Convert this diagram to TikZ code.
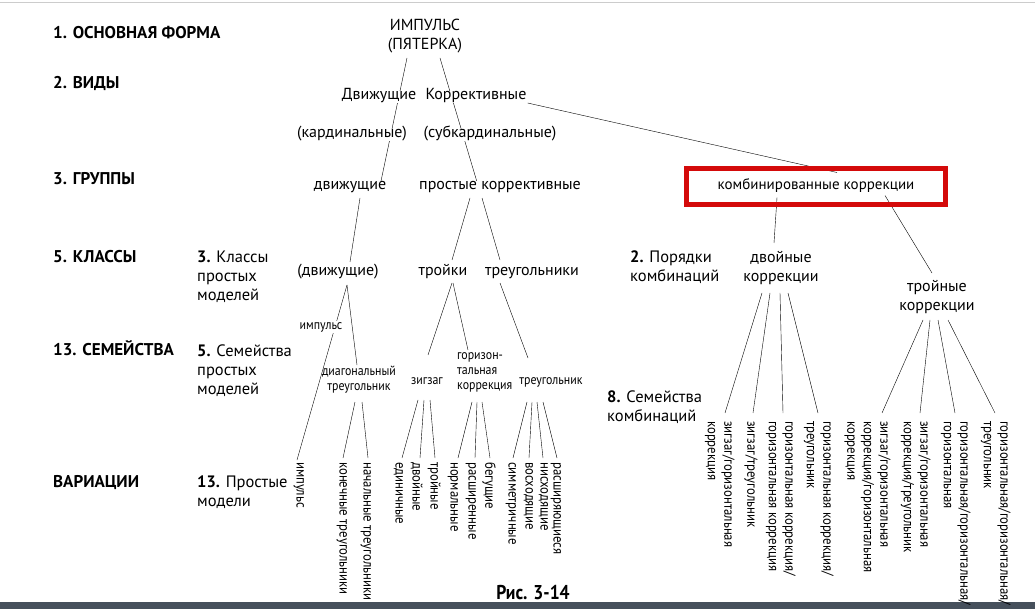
\documentclass[tikz,border=0pt]{standalone}
\usepackage{fontspec}
\setmainfont{PT Sans}
\newfontfamily\narrow[FakeStretch=0.88]{PT Sans}
\usetikzlibrary{backgrounds}

\definecolor{boxred}{RGB}{212,10,10}
\definecolor{barcol}{RGB}{70,80,92}

\tikzset{
  rowname/.style={anchor=west, inner sep=0pt, text height=1.4ex, text depth=0pt, font=\fontsize{17}{20}\selectfont\bfseries},
  note/.style={anchor=north west, inner sep=0pt, align=left, font=\fontsize{16.5}{19}\selectfont, execute at begin node=\vphantom{Б}},
  item/.style={fill=white, inner sep=1pt, text height=1.6ex, text depth=.5ex, font=\fontsize{16}{19}\selectfont},
  pair/.style={anchor=north, inner sep=0pt, align=center, font=\fontsize{16}{19}\selectfont, execute at begin node=\vphantom{Б}},
  small/.style={fill=white, inner sep=1pt, text height=1.6ex, text depth=.5ex, font=\narrow\fontsize{13.5}{15}\selectfont},
  smallpair/.style={anchor=north, inner sep=0pt, align=center, font=\narrow\fontsize{13.5}{15}\selectfont, execute at begin node=\vphantom{Б}},
  leaf/.style={rotate=-90, anchor=north west, inner sep=0pt, align=left, font=\narrow\fontsize{14.5}{16.5}\selectfont, execute at begin node=\vphantom{Б}},
  lnk/.style={line width=0.8pt}
}

\begin{document}
\begin{tikzpicture}[x=1pt,y=-1pt]
\useasboundingbox (0,0) rectangle (1035,609);
\draw[black!20] (0,2.5) -- (1035,2.5);
\fill[barcol] (0,602) rectangle (1035,609);

% row names
\node[rowname] (r1) at (53,35) {1. ОСНОВНАЯ ФОРМА};
\node[rowname] (r2) at (53,85) {2. ВИДЫ};
\node[rowname] (r3) at (53,181) {3. ГРУППЫ};
\node[rowname] (r4) at (53,259) {5. КЛАССЫ};
\node[rowname] (r5) at (53,352) {13. СЕМЕЙСТВА};
\node[rowname] (r6) at (53,484) {ВАРИАЦИИ};

% notes
\node[note] (n1) at (197,251) {\textbf{3.} Классы\\простых\\моделей};
\node[note] (n2) at (197,345) {\textbf{5.} Семейства\\простых\\моделей};
\node[note] (n3) at (197,476) {\textbf{13.} Простые\\модели};
\node[note] (n4) at (630,251) {\textbf{2.} Порядки\\комбинаций};
\node[note] (n5) at (607,391) {\textbf{8.} Семейства\\комбинаций};

% tree
\node[pair] (root) at (425,18.5) {ИМПУЛЬС\\(ПЯТЕРКА)};
\node[item] (mov) at (379,97) {Движущие};
\node[item] (cor) at (476,97) {Коррективные};
\node[item] (card) at (352,135) {(кардинальные)};
\node[item] (subc) at (490,135) {(субкардинальные)};
\node[item] (gmov) at (350,187) {движущие};
\node[item] (gsim) at (500,187) {простые коррективные};
\node[item, fill=none, draw=boxred, line width=5pt, minimum width=259pt, minimum height=36pt, font=\fontsize{15}{18}\selectfont] (gcomb) at (816,186.5) {комбинированные коррекции};
\node[item] (cmov) at (338,273) {(движущие)};
\node[item] (ctri) at (443,273) {тройки};
\node[item] (ctrg) at (532,273) {треугольники};
\node[pair] (dbl) at (781,251) {двойные\\коррекции};
\node[pair] (trp) at (937,280) {тройные\\коррекции};

\node[small] (fimp) at (321,327) {импульс};
\node[smallpair] (fdia) at (359,366) {диагональный\\треугольник};
\node[small] (fzig) at (427,382) {зигзаг};
\node[smallpair, anchor=north west, align=left] (fhor) at (457,352) {горизон-\\тальная\\коррекция};
\node[small] (ftri) at (551,382) {треугольник};

% variations
\node[leaf] (v1) at (307,462) {импульс};
\node[leaf] (v2) at (350,462) {конечные треугольники};
\node[leaf] (v3) at (374,462) {начальные треугольники};
\node[leaf] (v4) at (406,462) {единичные};
\node[leaf] (v5) at (423,462) {двойные};
\node[leaf] (v6) at (441,462) {тройные};
\node[leaf] (v7) at (461,462) {нормальные};
\node[leaf] (v8) at (479,462) {расширенные};
\node[leaf] (v9) at (496,462) {бегущие};
\node[leaf] (v10) at (519,462) {симметричные};
\node[leaf] (v11) at (536,462) {восходящие};
\node[leaf] (v12) at (551,462) {нисходящие};
\node[leaf] (v13) at (564,462) {расширяющиеся};
\node[leaf] (c1) at (735,421) {зигзаг/горизонтальная\\коррекция};
\node[leaf] (c2) at (758,421) {зигзаг/треугольник};
\node[leaf] (c3) at (796,421) {горизонтальная коррекция/\\горизонтальная коррекция};
\node[leaf] (c4) at (834,421) {горизонтальная коррекция/\\треугольник};
\node[leaf] (t1) at (891,421) {зигзаг/горизонтальная\\коррекция/горизонтальная\\коррекция};
\node[leaf] (t2) at (931,421) {зигзаг/горизонтальная\\коррекция/треугольник};
\node[leaf] (t3) at (971,421) {горизонтальная/горизонтальная/\\горизонтальная};
\node[leaf] (t4) at (1011,421) {горизонтальная/горизонтальная/\\треугольник};

\node[font=\narrow\fontsize{20}{22}\selectfont\bfseries] (fig) at (533,593) {Рис. 3-14};

\begin{scope}[on background layer, lnk]
% upper part
\draw ([shift={(-18,39.5)}]root.north) -- ([shift={(31,-6)}]gmov.center);
\draw ([shift={(15,39.5)}]root.north) -- ([shift={(-23,-5)}]gsim.center);
\draw ([shift={(0,6)}]cor.east) -- ([shift={(21,-14)}]gcomb.center);
\draw ([shift={(-39,11)}]gcomb.center) -- ([shift={(-7,-8)}]dbl.north);
\draw ([shift={(69,9)}]gcomb.center) -- ([shift={(-5,-7)}]trp.north);
\draw ([shift={(10,11)}]gmov.center) -- ([shift={(12,-11)}]cmov.center);
\draw ([shift={(-30,11)}]gsim.center) -- ([shift={(9,-13)}]ctri.center);
\draw ([shift={(-18,11)}]gsim.center) -- ([shift={(-32,-13)}]ctrg.center);
% classes to families
\draw ([shift={(9,12)}]cmov.center) -- ([shift={(-10,-2)}]v1.north west);
\draw ([shift={(9,12)}]cmov.center) -- ([shift={(-2,-1)}]fdia.north);
\draw ([shift={(9,10)}]ctri.center) -- ([shift={(1,-27)}]fzig.center);
\draw ([shift={(10,10)}]ctri.center) -- ([shift={(11,-2)}]fhor.north west);
\draw ([shift={(-32,10)}]ctrg.center) -- ([shift={(-23,-24)}]ftri.center);
% families to variations
\draw ([shift={(-4,36)}]fdia.north) -- ([shift={(-7,-4)}]v2.north west);
\draw ([shift={(3,36)}]fdia.north) -- ([shift={(-6,-4)}]v3.north west);
\draw ([shift={(-9,18)}]fzig.center) -- ([shift={(-4,-4)}]v4.north west);
\draw ([shift={(-3,18)}]fzig.center) -- ([shift={(-3,-4)}]v5.north west);
\draw ([shift={(3,18)}]fzig.center) -- ([shift={(-6,-4)}]v6.north west);
\draw ([shift={(15,50)}]fhor.north west) -- ([shift={(-3,-4)}]v7.north west);
\draw ([shift={(20,50)}]fhor.north west) -- ([shift={(-4,-4)}]v8.north west);
\draw ([shift={(25,50)}]fhor.north west) -- ([shift={(-6,-4)}]v9.north west);
\draw ([shift={(-24,20)}]ftri.center) -- ([shift={(-6,-4)}]v10.north west);
\draw ([shift={(-19,20)}]ftri.center) -- ([shift={(-7,-4)}]v11.north west);
\draw ([shift={(-14,20)}]ftri.center) -- ([shift={(-8,-4)}]v12.north west);
\draw ([shift={(-8,20)}]ftri.center) -- ([shift={(-7,-4)}]v13.north west);
% combinations
\draw ([shift={(-19,42)}]dbl.north) -- ([shift={(-10,-8)}]c1.north west);
\draw ([shift={(-11,42)}]dbl.north) -- ([shift={(-5,-8)}]c2.north west);
\draw ([shift={(-1,42)}]dbl.north) -- ([shift={(-13,-8)}]c3.north west);
\draw ([shift={(7,42)}]dbl.north) -- ([shift={(-16,-8)}]c4.north west);
\draw ([shift={(-14,40)}]trp.north) -- ([shift={(-9,-8)}]t1.north west);
\draw ([shift={(-7,40)}]trp.north) -- ([shift={(-11,-8)}]t2.north west);
\draw ([shift={(1,40)}]trp.north) -- ([shift={(-16,-8)}]t3.north west);
\draw ([shift={(11,40)}]trp.north) -- ([shift={(-16,-8)}]t4.north west);
\end{scope}
\end{tikzpicture}
\end{document}
